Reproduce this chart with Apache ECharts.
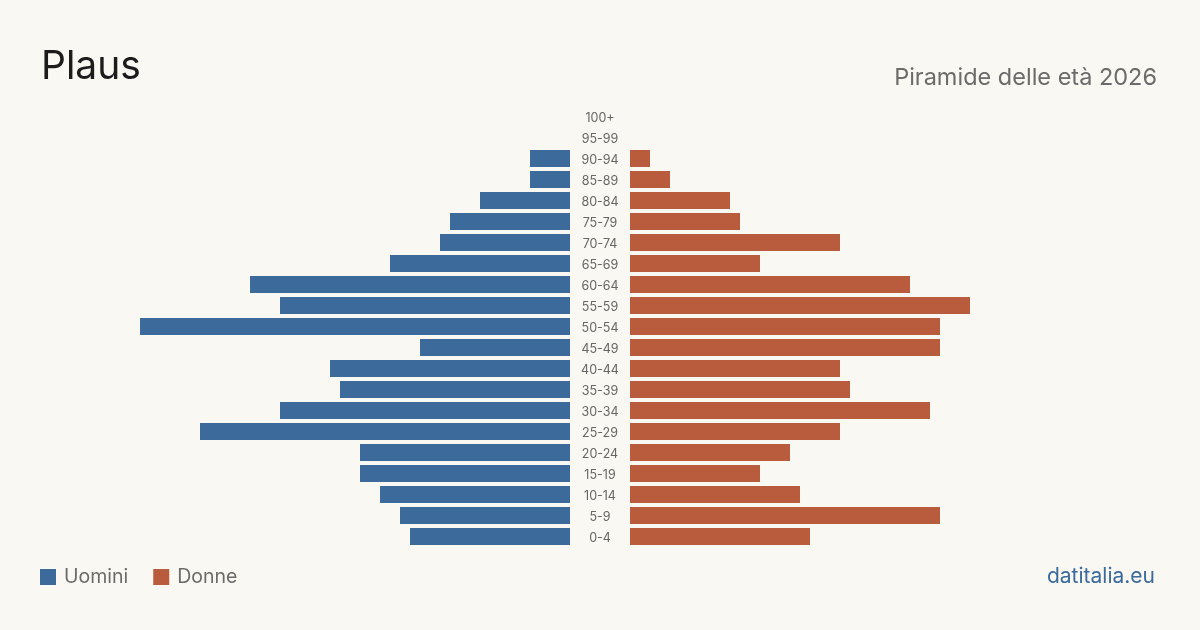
<!DOCTYPE html>
<html>
<head>
<meta charset="utf-8">
<script src="https://cdn.jsdelivr.net/npm/echarts@6/dist/echarts.min.js"></script>
<style>
  html, body { margin: 0; padding: 0; background: #f9f8f3; }
  #chart { width: 1200px; height: 630px; }
</style>
</head>
<body>
<div id="chart"></div>
<script>
// fasce d'età, dal basso verso l'alto
const ages = ['0-4', '5-9', '10-14', '15-19', '20-24', '25-29', '30-34', '35-39', '40-44', '45-49',
  '50-54', '55-59', '60-64', '65-69', '70-74', '75-79', '80-84', '85-89', '90-94', '95-99', '100+'];
const uomini = [16, 17, 19, 21, 21, 37, 29, 23, 24, 15, 43, 29, 32, 18, 13, 12, 9, 4, 4, 0, 0];
const donne = [18, 31, 17, 13, 16, 21, 30, 22, 21, 31, 31, 34, 28, 13, 21, 11, 10, 4, 2, 0, 0];

const BLUE = '#3b6a9b';
const RED = '#b95c3d';
const FONT = 'Inter, "Noto Sans", sans-serif';

// stessa scala per i due lati
const maxVal = Math.max(...uomini, ...donne);

const chart = echarts.init(document.getElementById('chart'));
chart.setOption({
  backgroundColor: '#f9f8f3',
  animation: false,
  textStyle: { fontFamily: FONT },
  title: [
    { text: 'Plaus', left: 36, top: 43, textStyle: { fontSize: 39, fontWeight: 400, color: '#1c1c1c', fontFamily: FONT } },
    { text: 'Piramide delle età 2026', right: 38, top: 61, textStyle: { fontSize: 23.5, fontWeight: 400, color: '#6b6b6b', fontFamily: FONT } },
    { text: 'datitalia.eu', right: 40, top: 561, textStyle: { fontSize: 21, fontWeight: 400, color: BLUE, fontFamily: FONT } }
  ],
  legend: {
    left: 35, top: 562,
    icon: 'rect', itemWidth: 16, itemHeight: 16, itemGap: 25,
    textStyle: { fontSize: 19.5, color: '#6b6b6b', fontFamily: FONT, padding: [0, 0, 0, 3] },
    data: ['Uomini', 'Donne']
  },
  grid: [
    { left: 140, right: 630, top: 106, height: 441 },
    { left: 630, right: 140, top: 106, height: 441 },
    // griglia solo per le etichette centrali, spostata di poco in basso
    { left: 630, right: 140, top: 107.5, height: 441 }
  ],
  xAxis: [
    { gridIndex: 0, type: 'value', inverse: true, min: 0, max: maxVal, show: false },
    { gridIndex: 1, type: 'value', min: 0, max: maxVal, show: false },
    { gridIndex: 2, type: 'value', min: 0, max: maxVal, show: false }
  ],
  yAxis: [
    { gridIndex: 0, type: 'category', data: ages, show: false },
    { gridIndex: 1, type: 'category', data: ages, show: false },
    {
      gridIndex: 2, type: 'category', data: ages, position: 'left',
      axisLine: { show: false }, axisTick: { show: false }, splitLine: { show: false },
      axisLabel: { margin: 30, align: 'center', fontSize: 12.5, color: '#666', fontFamily: FONT }
    }
  ],
  series: [
    { name: 'Uomini', type: 'bar', xAxisIndex: 0, yAxisIndex: 0, barWidth: 17, itemStyle: { color: BLUE }, data: uomini, silent: true },
    { name: 'Donne', type: 'bar', xAxisIndex: 1, yAxisIndex: 1, barWidth: 17, itemStyle: { color: RED }, data: donne, silent: true }
  ]
});
</script>
</body>
</html>
